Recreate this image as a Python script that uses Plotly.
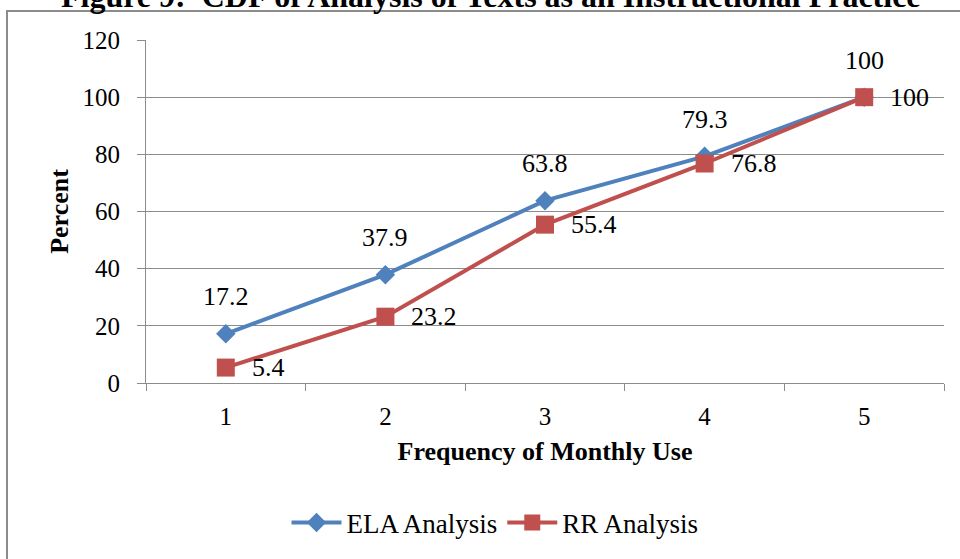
import plotly.graph_objects as go

# Cumulative percent by monthly-use frequency
frequency = [1, 2, 3, 4, 5]
frequency_labels = ["1", "2", "3", "4", "5"]
ela_analysis = [17.2, 37.9, 63.8, 79.3, 100]
rr_analysis = [5.4, 23.2, 55.4, 76.8, 100]

BLUE = "#4F81BD"
RED = "#C0504D"
GRID = "#8C8C8C"
SERIF = "Liberation Serif, Times New Roman, serif"

W, H = 960, 559
L, R, T, B = 146, 16, 40, 176
plot_w = W - L - R
plot_h = H - T - B


def px_to_paper_x(px):
    return (px - L) / plot_w


def px_to_paper_y(py):
    return 1 + (T - py) / plot_h


fig = go.Figure()

fig.add_trace(go.Scatter(
    x=frequency, y=ela_analysis, name="ELA Analysis", mode="lines+markers",
    line=dict(color=BLUE, width=4),
    marker=dict(symbol="diamond", size=15, color=BLUE),
))
fig.add_trace(go.Scatter(
    x=frequency, y=rr_analysis, name="RR Analysis", mode="lines+markers",
    line=dict(color=RED, width=4),
    marker=dict(symbol="square", size=18, color=RED),
))

annotations = []
# ELA values sit above their points
for xv, yv in zip(frequency, ela_analysis):
    annotations.append(dict(
        x=xv, y=yv, xref="x", yref="y", text=f"{yv:g}", showarrow=False,
        xanchor="center", yanchor="middle", yshift=37,
        font=dict(family=SERIF, size=26, color="black"),
    ))
# RR values sit to the right of their points
for xv, yv in zip(frequency, rr_analysis):
    annotations.append(dict(
        x=xv, y=yv, xref="x", yref="y", text=f"{yv:g}", showarrow=False,
        xanchor="left", yanchor="middle", xshift=24,
        font=dict(family=SERIF, size=26, color="black"),
    ))

# Figure caption (partly above the page edge)
annotations.append(dict(
    x=px_to_paper_x(491), y=px_to_paper_y(-4), xref="paper", yref="paper",
    text="<b>Figure 9:  CDF of Analysis of Texts as an Instructional Practice</b>",
    showarrow=False, xanchor="center", yanchor="middle",
    font=dict(family=SERIF, size=32, color="black"),
))

shapes = [dict(
    type="rect", xref="paper", yref="paper",
    x0=px_to_paper_x(7), x1=px_to_paper_x(990),
    y0=px_to_paper_y(600), y1=px_to_paper_y(11),
    line=dict(color=GRID, width=2), fillcolor="rgba(0,0,0,0)", layer="below",
)]

fig.update_layout(
    width=W, height=H,
    margin=dict(l=L, r=R, t=T, b=B),
    paper_bgcolor="white", plot_bgcolor="white",
    font=dict(family=SERIF, size=26, color="black"),
    showlegend=True,
    legend=dict(
        orientation="h", x=px_to_paper_x(495), y=px_to_paper_y(523),
        xanchor="center", yanchor="middle",
        font=dict(family=SERIF, size=27, color="black"),
        itemwidth=50, bgcolor="rgba(0,0,0,0)",
    ),
    annotations=annotations,
    shapes=shapes,
)

fig.update_xaxes(
    range=[0.5, 5.5], tickvals=frequency, ticktext=frequency_labels,
    ticks="", showgrid=False, zeroline=False,
    minor=dict(tick0=0.5, dtick=1, ticks="outside", ticklen=7,
               tickcolor=GRID, tickwidth=1, showgrid=False),
    showline=True, linecolor=GRID, linewidth=1,
    ticklabelstandoff=11,
    tickfont=dict(family=SERIF, size=25, color="black"),
    title=dict(text="<b>Frequency of Monthly Use</b>", standoff=12,
               font=dict(family=SERIF, size=26, color="black")),
)

fig.update_yaxes(
    range=[0, 120], dtick=20, tick0=0,
    ticks="outside", ticklen=8, tickcolor=GRID, tickwidth=1,
    showline=True, linecolor=GRID, linewidth=1,
    showgrid=True, gridcolor=GRID, gridwidth=1, zeroline=False,
    ticklabelstandoff=12,
    tickfont=dict(family=SERIF, size=25, color="black"),
    title=dict(text="<b>Percent</b>", standoff=6,
               font=dict(family=SERIF, size=26, color="black")),
)

fig.write_html("out.html")
